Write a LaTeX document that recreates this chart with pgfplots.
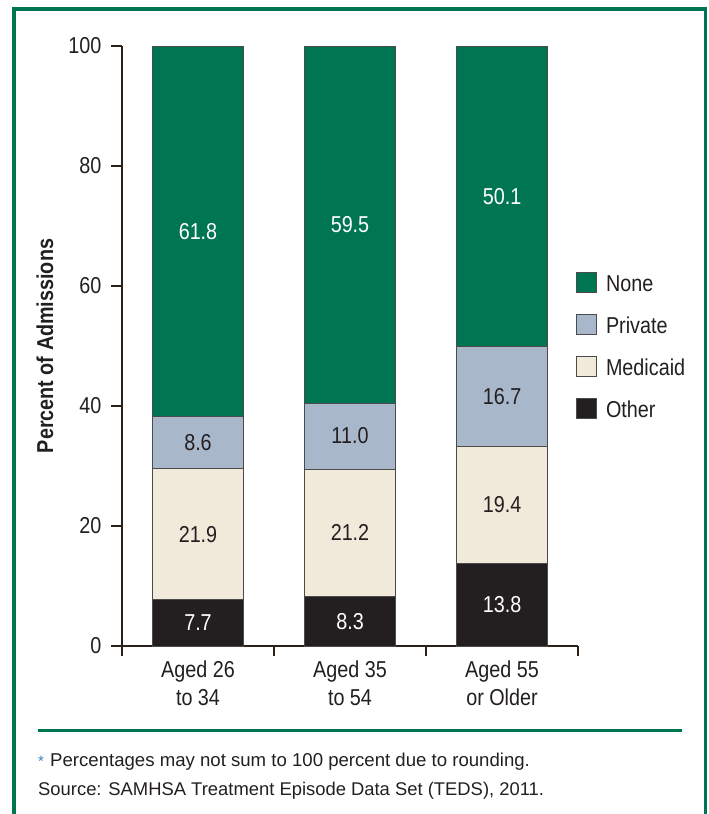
\documentclass[border=0pt]{standalone}
\usepackage{fontspec}
\setmainfont{Liberation Sans}[FakeStretch=0.86]
\newfontfamily\footfont{Liberation Sans}
\usepackage{pgfplots}
\usepackage{pgfplotstable}
\pgfplotsset{compat=1.18}
\definecolor{cgreen}{RGB}{0,117,81}
\definecolor{cprivate}{RGB}{169,183,202}
\definecolor{cmedicaid}{RGB}{241,233,217}
\definecolor{cother}{RGB}{35,31,32}
\definecolor{axiscol}{RGB}{43,33,24}
\definecolor{bardraw}{RGB}{75,75,75}
\definecolor{starblue}{RGB}{50,125,190}
\definecolor{txt}{RGB}{35,31,32}

\pgfplotstableread{
x other medicaid private none
0 7.7 21.9 8.6 61.8
1 8.3 21.2 11.0 59.5
2 13.8 19.4 16.7 50.1
}\datatable

\begin{document}
\begin{tikzpicture}
\path[use as bounding box] (0,0) rectangle (709bp,-814bp);
% frame
\draw[cgreen, line width=3.5bp] (14bp,-814bp) -- (14bp,-9bp) -- (705.5bp,-9bp) -- (705.5bp,-814bp);
\draw[cgreen, line width=3bp] (38bp,-730.5bp) -- (682bp,-730.5bp);
\node[anchor=base west, inner sep=0pt, text=starblue, font=\footfont\fontsize{15bp}{18bp}\selectfont] at (38bp,-766bp) {*};
\node[anchor=base west, inner sep=0pt, text=txt, font=\footfont\fontsize{18.6bp}{22bp}\selectfont] at (50bp,-766bp) {Percentages may not sum to 100 percent due to rounding.};
\node[anchor=base west, inner sep=0pt, text=txt, font=\footfont\fontsize{18.4bp}{22bp}\selectfont] at (38bp,-795bp) {Source: SAMHSA Treatment Episode Data Set (TEDS), 2011.};

\begin{axis}[
  at={(122bp,-646bp)}, anchor=south west,
  scale only axis, width=456bp, height=600bp,
  xmin=-0.5, xmax=2.5, ymin=0, ymax=100,
  ybar stacked, bar width=0.6,
  axis lines*=left,
  axis line style={draw=axiscol, line width=2bp, -},
  font=\fontsize{23bp}{28bp}\selectfont,
  /pgf/number format/assume math mode=true,
  ytick={0,20,40,60,80,100},
  xtick={0,1,2},
  xticklabels={Aged 26\\to 34, Aged 35\\to 54, Aged 55\\or Older},
  minor xtick={-0.5,0.5,1.5,2.5},
  tick align=outside,
  x tick style={draw=none},
  minor x tick style={draw=axiscol, line width=1.6bp},
  minor tick length=10bp,
  y tick style={draw=axiscol, line width=1.6bp},
  major tick length=11bp,
  xticklabel style={align=center, text=txt, font=\fontsize{23bp}{28bp}\selectfont},
  yticklabel style={text=txt, xshift=-6bp},
  every axis y label/.style={at={(axis description cs:-0.1689,0.5)}, anchor=center, rotate=90, font=\bfseries\fontsize{23bp}{26bp}\selectfont, text=txt},
  ylabel={Percent of Admissions},
  reverse legend,
  legend cell align=left,
  legend image code/.code={\draw[#1, draw=bardraw, line width=0.8bp] (0bp,-7bp) rectangle (20bp,13bp);},
  legend style={at={(axis description cs:0.9956,0.6233)}, anchor=north west, draw=none, fill=none, inner sep=0pt, row sep=17.4bp, column sep=9bp, font=\fontsize{23bp}{28bp}\selectfont, text=txt,
    nodes={inner sep=0pt, text height=17bp, text depth=5bp}},
  nodes near coords,
  nodes near coords align={center},
  point meta=explicit symbolic,
]
\addplot[fill=cother, draw=bardraw, line width=0.8bp,
  every node near coord/.append style={text=white, anchor=center}]
  table[x=x, y=other, meta=other] {\datatable};
\addlegendentry{Other}
\addplot[fill=cmedicaid, draw=bardraw, line width=0.8bp,
  every node near coord/.append style={text=txt, anchor=center}]
  table[x=x, y=medicaid, meta=medicaid] {\datatable};
\addlegendentry{Medicaid}
\addplot[fill=cprivate, draw=bardraw, line width=0.8bp,
  every node near coord/.append style={text=txt, anchor=center}]
  table[x=x, y=private, meta=private] {\datatable};
\addlegendentry{Private}
\addplot[fill=cgreen, draw=bardraw, line width=0.8bp,
  every node near coord/.append style={text=white, anchor=center}]
  table[x=x, y=none, meta=none] {\datatable};
\addlegendentry{None}
\end{axis}
\end{tikzpicture}
\end{document}
